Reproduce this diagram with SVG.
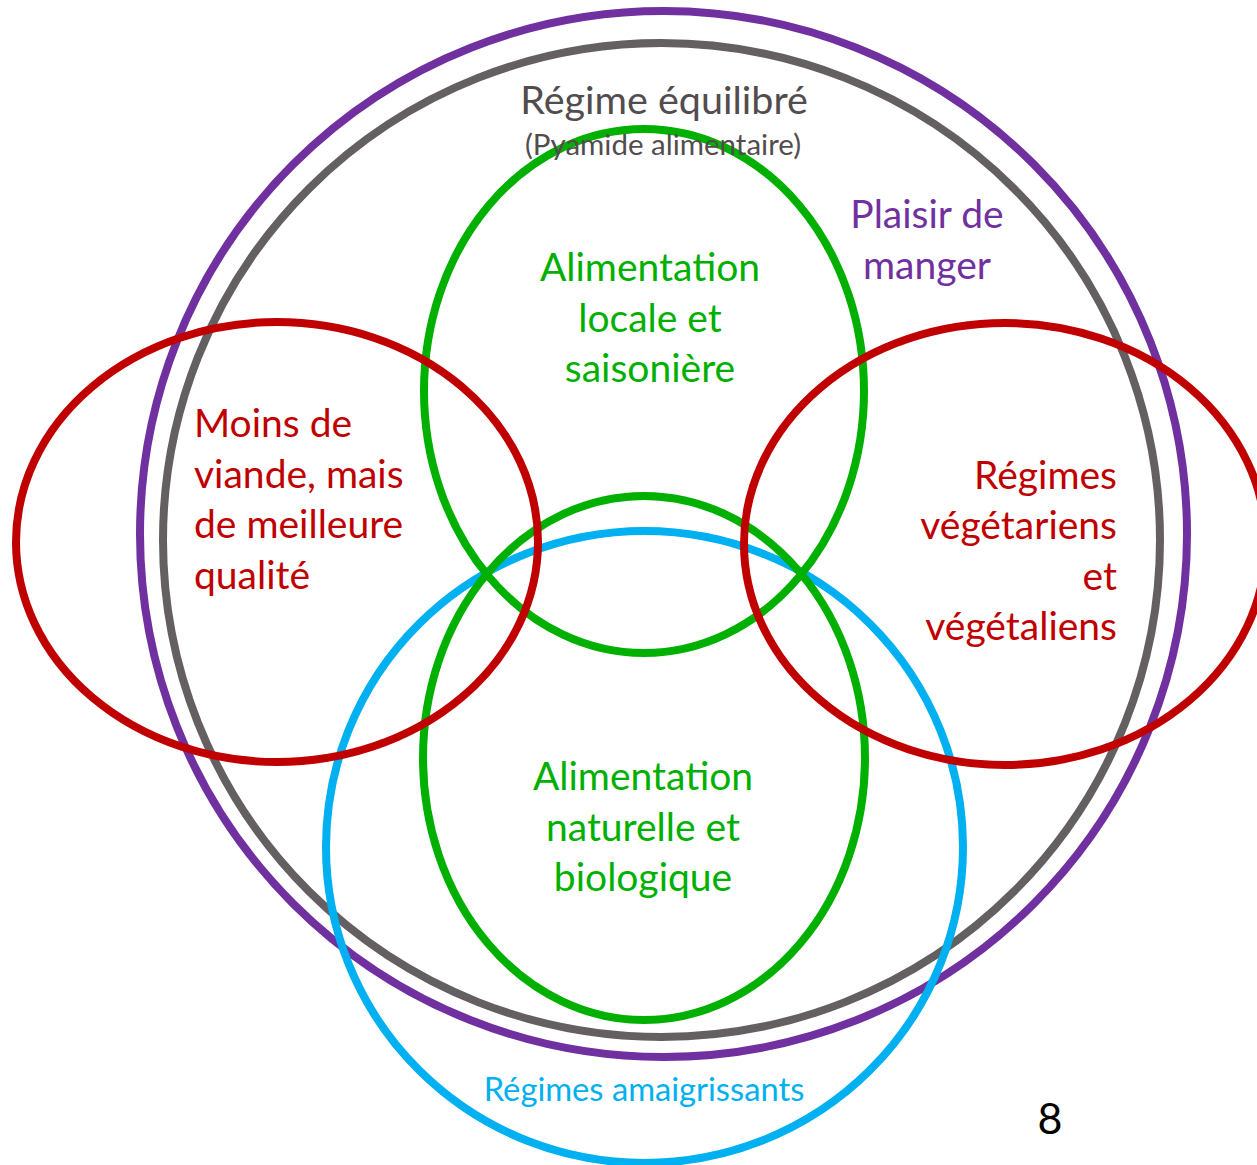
<svg xmlns="http://www.w3.org/2000/svg" width="1257" height="1165" viewBox="0 0 1257 1165">
<style>
.c{fill:none;stroke-width:8}
.t{font-family:Lato,"Open Sans","DejaVu Sans",sans-serif}
.big{font-size:39px}
</style>
<rect width="1257" height="1165" fill="#ffffff"/>
<g id="plaisir">
<ellipse class="c" cx="663.5" cy="534" rx="523.5" ry="523" stroke="#7030A0"/>
</g>
<g id="equilibre">
<ellipse class="c" cx="661.5" cy="540" rx="498.5" ry="497" stroke="#646062"/>
</g>
<g id="amaigrissants">
<ellipse class="c" cx="644.5" cy="847" rx="318.5" ry="316" stroke="#00B0F0"/>
</g>
<g id="locale">
<ellipse class="c" cx="644" cy="391" rx="220" ry="262" stroke="#00B000"/>
</g>
<g id="naturelle">
<ellipse class="c" cx="644" cy="758" rx="221" ry="262" stroke="#00B000"/>
</g>
<g id="moins-viande">
<ellipse class="c" cx="277" cy="542" rx="261" ry="220" stroke="#C00000"/>
</g>
<g id="vegetariens">
<ellipse class="c" cx="1005" cy="544" rx="261" ry="221" stroke="#C00000"/>
</g>
<g id="labels" class="t">
<text x="664" y="114" text-anchor="middle" font-size="39.5" fill="#524C4E">Régime équilibré</text>
<text x="663" y="155" text-anchor="middle" font-size="29.5" fill="#524C4E">(Pyamide alimentaire)</text>
<text x="927" y="228" text-anchor="middle" class="big" fill="#7030A0">Plaisir de</text>
<text x="927" y="279" text-anchor="middle" class="big" fill="#7030A0">manger</text>
<g fill="#00B000" text-anchor="middle" class="big">
<text x="650" y="281">Alimentation</text>
<text x="650" y="332">locale et</text>
<text x="650" y="382">saisonière</text>
<text x="643" y="790">Alimentation</text>
<text x="643" y="841">naturelle et</text>
<text x="643" y="891">biologique</text>
</g>
<g fill="#C00000" class="big">
<text x="194" y="437">Moins de</text>
<text x="194" y="488">viande, mais</text>
<text x="194" y="538">de meilleure</text>
<text x="194" y="589">qualité</text>
<text x="1117" y="489" text-anchor="end">Régimes</text>
<text x="1117" y="539" text-anchor="end">végétariens</text>
<text x="1117" y="590" text-anchor="end">et</text>
<text x="1117" y="640" text-anchor="end">végétaliens</text>
</g>
<text x="644" y="1101" text-anchor="middle" font-size="32.7" fill="#00B0F0">Régimes amaigrissants</text>
<text x="1050" y="1134" text-anchor="middle" font-size="43" fill="#000000">8</text>
</g>
</svg>
